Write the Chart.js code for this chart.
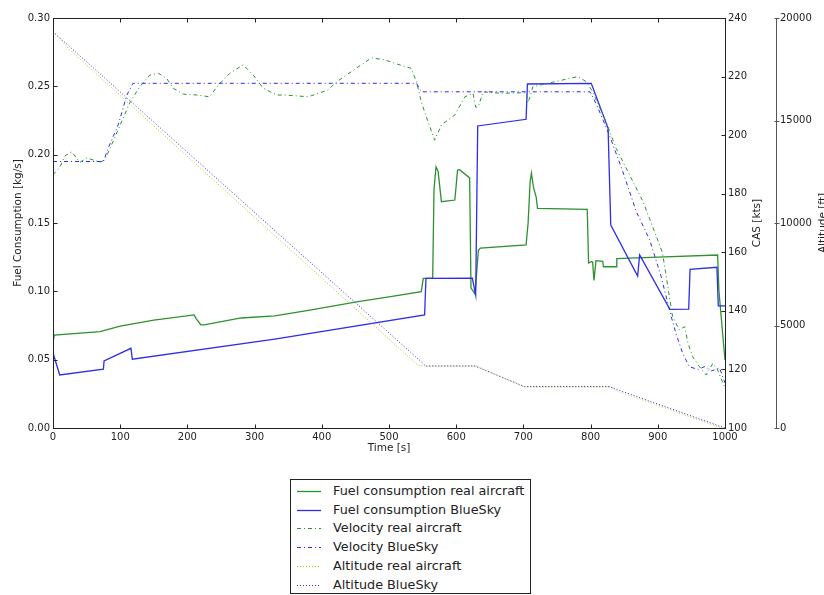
<!DOCTYPE html>
<html>
<head>
<meta charset="utf-8">
<script src="https://cdn.jsdelivr.net/npm/chart.js@4/dist/chart.umd.min.js"></script>
<style>
html,body{margin:0;padding:0;background:#fff;overflow:hidden;}
#wrap{position:relative;width:824px;height:595px;overflow:hidden;}
#c{position:absolute;left:0;top:0;}
#legend{position:absolute;left:290px;top:479px;width:241px;height:115px;border:1px solid #222;background:#fff;box-sizing:border-box;font-family:"DejaVu Sans";font-size:12.8px;color:#222;}
.row{position:absolute;left:0;height:18px;line-height:18px;white-space:nowrap;}
.row svg{position:absolute;left:6px;top:4px;}
.row span{position:absolute;left:42px;top:0;}
</style>
</head>
<body>
<div id="wrap">
<canvas id="c" width="824" height="595"></canvas>
<div id="legend"></div>
</div>
<script>
// ---- data ----
const fuelRealT = [0,2,70,100,150,210,213,220,225,280,330,380,454,500,548,551,565,567,570,573,578,598,602,605,620,622,628,633,636,704,707,710,712,715,719,721,795,797,801,803,805,808,818,819,838,839,900,989,991,1000];
const fuelRealV = [0.063,0.068,0.0705,0.0745,0.079,0.0827,0.080,0.0755,0.0755,0.0805,0.082,0.086,0.0924,0.096,0.0997,0.1095,0.1097,0.175,0.191,0.188,0.1656,0.1668,0.1888,0.189,0.183,0.1025,0.098,0.130,0.1317,0.134,0.150,0.180,0.1866,0.176,0.169,0.1607,0.160,0.1207,0.1217,0.1215,0.108,0.1224,0.122,0.118,0.118,0.124,0.125,0.1266,0.100,0.0497];

const fuelBlueT = [0,10,75,76,116,118,330,553,555,624,629,632,704,706,801,826,830,870,873,918,946,948,988,990,1000];
const fuelBlueV = [0.0549,0.0388,0.043,0.049,0.0583,0.0503,0.065,0.0827,0.1095,0.1097,0.0973,0.221,0.2259,0.2517,0.2522,0.2193,0.1485,0.1112,0.1266,0.0868,0.087,0.116,0.1176,0.0893,0.0893];

const velRealT = [0,10,18,28,40,50,70,77,87,100,115,129,144,157,169,179,194,214,233,246,263,283,298,313,333,345,380,409,422,444,474,494,513,533,541,548,558,568,578,598,613,625,629,633,640,667,704,707,714,746,781,794,803,813,823,838,858,878,898,907,915,922,932,940,945,952,962,972,982,989,997,1000];
const velRealV = [186.5,189,193,194.3,190.7,192.2,190.8,191.5,196.6,203.5,211.4,216.5,220.5,221.1,219.4,216,214,213.7,213.1,217.1,221.1,224,220.5,216,213.7,213.7,213.1,215.4,218.2,221.7,226.4,225.7,224.2,222.8,218.2,211.4,204.6,198.3,203.5,206.9,213.1,214.3,209.5,209.7,214.8,214.3,214.5,211,216.5,218.2,220,218.2,214.8,209.7,204.6,195.5,186.4,177.3,165.3,159.8,148.2,138,133.5,134.6,128.9,124.3,120.9,118.1,122.1,119.8,115.3,114];

const velBlueT = [0,75,82,97,110,119,541,548,799,808,828,848,868,888,905,920,927,937,947,960,970,980,992,1000];
const velBlueV = [191,191,195.5,203.5,213.7,217.7,217.7,214.8,214.8,210.9,200,187.5,173.9,164.2,151.7,138,132.3,125.5,120.9,120,121,119.5,120.5,115.4];

const altRealT = [0,25,543,553,630,700,830,840,995,1000];
const altRealV = [19330,18450,3060,3024,3024,2015,2015,1800,0,0];

const altBlueT = [0,555,628,702,828,1000];
const altBlueV = [19330,3024,3024,2015,2015,0];

const seriesLabels = ['Fuel consumption real aircraft','Fuel consumption BlueSky','Velocity real aircraft','Velocity BlueSky','Altitude real aircraft','Altitude BlueSky'];
const xTicks = [0,100,200,300,400,500,600,700,800,900,1000];

// ---- styles ----
const GREEN = 'rgb(45,145,45)';
const BLUE = 'rgb(45,45,235)';
const YELLOW = 'rgb(191,191,0)';
const FONT = 'DejaVu Sans';
const TXT = '#222';

function pts(t, v){ return t.map((x,i)=>({x:x, y:v[i]})); }

const styles = [
  {color:GREEN, width:1.3, dash:[], axis:'y', order:5},
  {color:BLUE, width:1.3, dash:[], axis:'y', order:4},
  {color:GREEN, width:1, dash:[4,3,1,3], axis:'y1', order:3},
  {color:BLUE, width:1, dash:[4,3,1,3], axis:'y1', order:2},
  {color:YELLOW, width:1, dash:[1,2], axis:'y2', order:1},
  {color:BLUE, width:1, dash:[1,2], axis:'y2', order:0}
];
const seriesData = [pts(fuelRealT,fuelRealV), pts(fuelBlueT,fuelBlueV), pts(velRealT,velRealV), pts(velBlueT,velBlueV), pts(altRealT,altRealV), pts(altBlueT,altBlueV)];

const datasets = seriesLabels.map((lab,i)=>({
  label: lab,
  data: seriesData[i],
  borderColor: styles[i].color,
  backgroundColor: styles[i].color,
  borderWidth: styles[i].width,
  borderDash: styles[i].dash,
  yAxisID: styles[i].axis,
  order: styles[i].order,
  pointRadius: 0,
  tension: 0,
  fill: false
}));

const tickFont = {family: FONT, size: 10};
const titleFont = {family: FONT, size: 10.5};
const plain = v => String(Math.round(v * 1000) / 1000);

const framePlugin = {
  id: 'frame',
  afterDatasetsDraw(chart){
    const {ctx, chartArea:a, scales:s} = chart;
    const L = 4;
    ctx.save();
    ctx.strokeStyle = TXT; ctx.lineWidth = 1;
    const l = Math.round(a.left)+0.5, r = Math.round(a.right)+0.5, t = Math.round(a.top)+0.5, b = Math.round(a.bottom)+0.5;
    ctx.strokeRect(l, t, r-l, b-t);
    ctx.beginPath();
    s.x.ticks.forEach(tk=>{ const x = Math.round(s.x.getPixelForValue(tk.value))+0.5; ctx.moveTo(x,b); ctx.lineTo(x,b-L); ctx.moveTo(x,t); ctx.lineTo(x,t+L); });
    s.y.ticks.forEach(tk=>{ const y = Math.round(s.y.getPixelForValue(tk.value))+0.5; ctx.moveTo(l,y); ctx.lineTo(l+L,y); });
    s.y1.ticks.forEach(tk=>{ const y = Math.round(s.y1.getPixelForValue(tk.value))+0.5; ctx.moveTo(r,y); ctx.lineTo(r-L,y); });
    ctx.stroke();
    ctx.strokeStyle = '#555';
    ctx.beginPath();
    const x2 = Math.round(s.y2.left)+0.5;
    s.y2.ticks.forEach(tk=>{ const y = Math.round(s.y2.getPixelForValue(tk.value))+0.5; ctx.moveTo(x2-2,y); ctx.lineTo(x2+3,y); });
    ctx.stroke();
    ctx.restore();
  },
  afterDraw(chart){
    const {ctx, chartArea:a, scales:s} = chart;
    const cy = (a.top + a.bottom)/2;
    ctx.save();
    ctx.fillStyle = TXT;
    ctx.font = titleFont.size + 'px "' + FONT + '"';
    ctx.textAlign = 'center'; ctx.textBaseline = 'middle';
    [[s.y1.left + 32, 'CAS [kts]'], [s.y2.left + 47, 'Altitude [ft]']].forEach(([x, txt])=>{
      ctx.save(); ctx.translate(x, cy); ctx.rotate(-Math.PI/2); ctx.fillText(txt, 0, 0); ctx.restore();
    });
    ctx.restore();
  }
};

Chart.defaults.font.family = FONT;
const noGrid = {display: false, drawTicks: false, tickLength: 0};
const chart = new Chart(document.getElementById('c'), {
  type: 'line',
  data: {datasets: datasets},
  options: {
    responsive: false,
    animation: false,
    layout: {padding: {left: 0, right: 0, top: 18, bottom: 137}},
    plugins: {legend: {display: false}, tooltip: {enabled: false}},
    scales: {
      x: {
        type: 'linear', position: 'bottom', min: 0, max: 1000,
        afterBuildTicks: sc => { sc.ticks = xTicks.map(v=>({value:v})); },
        ticks: {padding: 3, color: TXT, font: tickFont, maxRotation: 0, autoSkip: false, callback: plain},
        grid: noGrid,
        border: {display: false},
        title: {display: true, text: 'Time [s]', color: TXT, font: titleFont, padding: {top: 0, bottom: 3}},
        afterFit: sc => { sc.height = 30; }
      },
      y: {
        type: 'linear', position: 'left', min: 0, max: 0.3, weight: 0,
        ticks: {stepSize: 0.05, padding: 3, color: TXT, font: tickFont, callback: v => Number(v).toFixed(2)},
        grid: noGrid,
        border: {display: false},
        title: {display: true, text: 'Fuel Consumption [kg/s]', color: TXT, font: titleFont, padding: {top: 12, bottom: 0}},
        afterFit: sc => { sc.width = 53; }
      },
      y1: {
        type: 'linear', position: 'right', min: 100, max: 240, weight: 1,
        ticks: {stepSize: 20, padding: 3, color: TXT, font: tickFont, callback: plain},
        grid: noGrid,
        border: {display: false},
        afterFit: sc => { sc.width = 51; }
      },
      y2: {
        type: 'linear', position: 'right', min: 0, max: 20000, weight: 2,
        ticks: {stepSize: 5000, padding: 4, color: TXT, font: tickFont, callback: plain},
        grid: noGrid,
        border: {display: true, color: '#555', width: 1},
        afterFit: sc => { sc.width = 48; }
      }
    }
  },
  plugins: [framePlugin]
});

// ---- HTML legend built from the datasets ----
const leg = document.getElementById('legend');
chart.data.datasets.forEach((ds, i)=>{
  const row = document.createElement('div');
  row.className = 'row';
  row.style.top = (2 + i*18.7) + 'px';
  const dash = (ds.borderDash && ds.borderDash.length) ? ds.borderDash.join(',') : 'none';
  row.innerHTML = '<svg width="24" height="10"><line x1="0" y1="5.5" x2="24" y2="5.5" stroke="' + ds.borderColor + '" stroke-width="' + ds.borderWidth + '" stroke-dasharray="' + dash + '"/></svg><span></span>';
  row.querySelector('span').textContent = ds.label;
  leg.appendChild(row);
});
</script>
</body>
</html>
